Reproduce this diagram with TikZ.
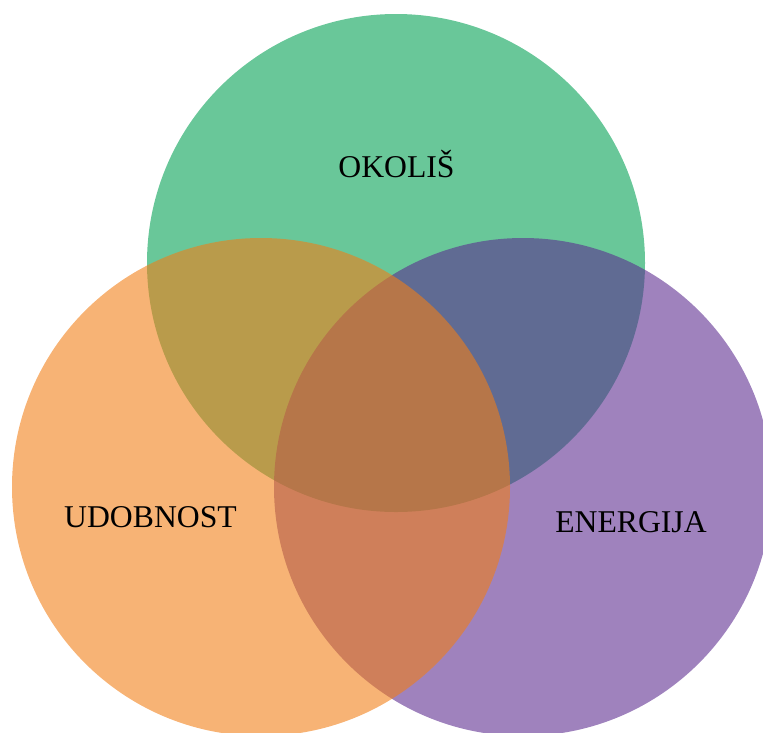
\documentclass[tikz,border=0pt]{standalone}
\usepackage{fontspec}
\setmainfont{Liberation Serif}
\usepackage{tikz}
\usetikzlibrary{positioning}
\definecolor{zelena}{RGB}{0,160,82}
\definecolor{ljubicasta}{RGB}{91,43,143}
\definecolor{narancasta}{RGB}{242,126,21}
\tikzset{
	krug/.style={circle, draw=none, minimum size=498pt, inner sep=0pt, fill opacity=0.59},
	oznaka/.style={anchor=base, font=\fontsize{31.7}{38}\selectfont, inner sep=0pt}
}

\begin{document}
\begin{tikzpicture}[x=1pt, y=-1pt]
			\useasboundingbox (0,0) rectangle (763,732);
			\clip (0,0) rectangle (763,732);
			\node[krug, fill=zelena] (okolis) at (396,263) {};
			\node[krug, fill=ljubicasta] (energija) at (523,487) {};
			\node[krug, fill=narancasta] (udobnost) at (261,487) {};
			\node[oznaka] (tOkolis) at (396.5,177) {OKOLIŠ};
			\node[oznaka] (tUdobnost) at (150.5,527) {UDOBNOST};
			\node[oznaka] (tEnergija) at (631,532) {ENERGIJA};
		\end{tikzpicture}
\end{document}
